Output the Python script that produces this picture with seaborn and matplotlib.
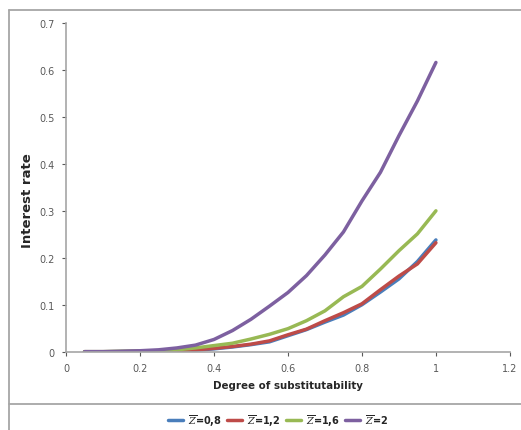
import matplotlib
matplotlib.use('Agg')
import matplotlib.pyplot as plt
import seaborn as sns
import pandas as pd
from matplotlib.lines import Line2D

# Degree of substitutability
x = [0.05, 0.10, 0.15, 0.20, 0.25, 0.30, 0.35, 0.40, 0.45, 0.50,
     0.55, 0.60, 0.65, 0.70, 0.75, 0.80, 0.85, 0.90, 0.95, 1.00]

# Interest rate for each Z-bar
z08 = [0.000, 0.000, 0.000, 0.001, 0.001, 0.002, 0.003, 0.006, 0.010, 0.015,
       0.021, 0.034, 0.047, 0.063, 0.078, 0.100, 0.127, 0.155, 0.192, 0.238]
z12 = [0.000, 0.000, 0.000, 0.001, 0.001, 0.002, 0.004, 0.007, 0.011, 0.016,
       0.023, 0.036, 0.048, 0.066, 0.083, 0.102, 0.132, 0.161, 0.187, 0.232]
z16 = [0.000, 0.000, 0.001, 0.001, 0.002, 0.004, 0.008, 0.013, 0.018, 0.027,
       0.037, 0.049, 0.066, 0.087, 0.117, 0.139, 0.176, 0.215, 0.251, 0.300]
z20 = [0.000, 0.000, 0.001, 0.002, 0.004, 0.008, 0.014, 0.026, 0.045, 0.069,
       0.097, 0.126, 0.162, 0.206, 0.255, 0.321, 0.382, 0.460, 0.534, 0.616]

labels = [r'$\overline{Z}$=0,8', r'$\overline{Z}$=1,2',
          r'$\overline{Z}$=1,6', r'$\overline{Z}$=2']
colors = ['#4a7ebb', '#be4b48', '#98b954', '#7d60a0']

rows = []
for lab, ys in zip(labels, [z08, z12, z16, z20]):
    for xi, yi in zip(x, ys):
        rows.append({'x': xi, 'y': yi, 'serie': lab})
df = pd.DataFrame(rows)

sns.set_style('white')
plt.rcParams['font.family'] = ['DejaVu Sans']
plt.rcParams['mathtext.fontset'] = 'dejavuserif'

fig = plt.figure(figsize=(5.21, 4.31), dpi=100)
ax = fig.add_axes([0.1267, 0.1817, 0.852, 0.7626])

sns.lineplot(data=df, x='x', y='y', hue='serie', hue_order=labels,
             palette=colors, linewidth=2.5, ax=ax, legend=False)

ax.set_xlim(0, 1.2)
ax.set_ylim(0, 0.7)
xt = [0, 0.2, 0.4, 0.6, 0.8, 1, 1.2]
yt = [0, 0.1, 0.2, 0.3, 0.4, 0.5, 0.6, 0.7]
ax.set_xticks(xt)
ax.set_xticklabels(['0', '0.2', '0.4', '0.6', '0.8', '1', '1.2'])
ax.set_yticks(yt)
ax.set_yticklabels(['0', '0.1', '0.2', '0.3', '0.4', '0.5', '0.6', '0.7'])
ax.tick_params(axis='both', labelsize=7, colors='#595959', length=3,
               width=0.8, direction='out', bottom=True, left=True, pad=5)
for s in ['top', 'right']:
    ax.spines[s].set_visible(False)
for s in ['left', 'bottom']:
    ax.spines[s].set_color('#a6a6a6')
    ax.spines[s].set_linewidth(1.2)

ax.set_xlabel('Degree of substitutability', fontsize=7.4, fontweight='bold', labelpad=5)
ax.set_ylabel('Interest rate', fontsize=9.5, fontweight='bold', labelpad=4)
ax.yaxis.label.set_y(0.462)

# outer frame and legend separator
fig.add_artist(Line2D([9/521, 9/521], [0, 1 - 11/431], color='#a6a6a6', lw=1.3))
fig.add_artist(Line2D([9/521, 1], [1 - 11/431, 1 - 11/431], color='#a6a6a6', lw=1.3))
fig.add_artist(Line2D([9/521, 1], [1 - 405/431, 1 - 405/431], color='#a6a6a6', lw=1.3))

handles = [Line2D([0], [0], color=c, lw=2.5) for c in colors]
fig.legend(handles, labels, loc='center', bbox_to_anchor=(278/521, 1 - 421/431),
           ncol=4, frameon=False, handlelength=1.6,
           columnspacing=0.5, handletextpad=0.5,
           prop={'size': 7, 'weight': 'bold'})

fig.savefig('out.png', dpi=100)
